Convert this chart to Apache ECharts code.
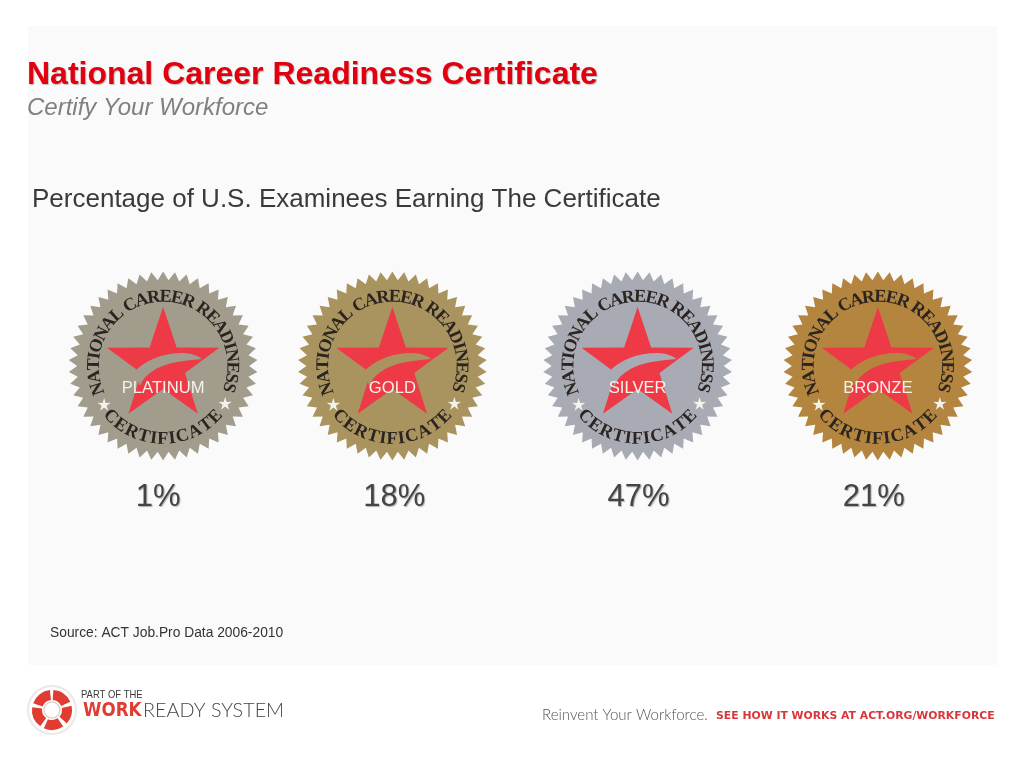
<!DOCTYPE html>
<html>
<head>
<meta charset="utf-8">
<title>National Career Readiness Certificate</title>
<script src="https://cdn.jsdelivr.net/npm/echarts@6/dist/echarts.min.js"></script>
<style>
html, body { margin: 0; padding: 0; background: #fff; }
#chart { width: 1024px; height: 768px; }
</style>
</head>
<body>
<div id="chart"></div>
<script>
// chart values
const levels = ['PLATINUM', 'GOLD', 'SILVER', 'BRONZE'];
const earningPercent = [1, 18, 47, 21];

// badge looks, one per level
const badgeColors = ['#a19c8b', '#a9945f', '#a9abb4', '#b3853f'];
const badgeNudge = [0, -9, -2, 0];
const labelNudge = [-5, -7, -1, -4];

const sans = '"Liberation Sans", Arial, sans-serif';
const measure = document.createElement('canvas').getContext('2d');

// one rotated text per letter, spread between two clockwise angles from the top
function arcText(text, font, radius, fromDeg, toDeg, inward) {
    measure.font = font;
    let widths = text.split('').map(c => measure.measureText(c).width);
    let total = widths.reduce((a, b) => a + b, 0) - widths[0] / 2 - widths[widths.length - 1] / 2;
    let used = -widths[0] / 2;
    return text.split('').map((c, i) => {
        used += widths[i] / 2;
        let deg = fromDeg + (toDeg - fromDeg) * used / total;
        used += widths[i] / 2;
        let a = deg * Math.PI / 180;
        return {
            type: 'text',
            x: radius * Math.sin(a),
            y: -radius * Math.cos(a),
            rotation: inward ? Math.PI - a : -a,
            style: { text: c, font: font, fill: '#2b2420', align: 'center', verticalAlign: 'middle' }
        };
    });
}

function seal(color) {
    let points = [];
    let teeth = 50;
    for (let i = 0; i < teeth * 2; i++) {
        let a = Math.PI * i / teeth;
        let r = i % 2 ? 86 : 94.5;
        points.push([r * Math.sin(a), -r * Math.cos(a)]);
    }
    return { type: 'polygon', shape: { points: points }, style: { fill: color } };
}

function star(cx, cy, outer, inner, color) {
    let points = [];
    for (let i = 0; i < 10; i++) {
        let a = Math.PI * i / 5;
        let r = i % 2 ? inner : outer;
        points.push([cx + r * Math.sin(a), cy - r * Math.cos(a)]);
    }
    return { type: 'polygon', shape: { points: points }, style: { fill: color } };
}

function renderBadge(params, api) {
    let i = api.value(0);
    let color = badgeColors[i];
    let x = api.coord([i, 0])[0];
    return {
        type: 'group',
        children: [
            {
                type: 'group',
                x: x + badgeNudge[i],
                y: 366,
                children: [
                    seal(color),
                    star(0, 0, 59, 23, '#ee3a47'),
                    {
                        type: 'path',
                        shape: { pathData: 'M-29 6 C-18 -6 0 -13 20 -13 C28 -13 35 -10 39 -7 C25 -6 8 -4 -3 1 C-12 5 -20 11 -23 20 Z' },
                        style: { fill: color }
                    }
                ].concat(
                    arcText('NATIONAL CAREER READINESS', 'bold 18px "Liberation Serif", serif', 69, -109, 108, false),
                    arcText('CERTIFICATE', 'bold 18px "Liberation Serif", serif', 73, 226, 134, true),
                    [
                        star(-59, 39, 7, 2.6, '#f4f2ec'),
                        star(62, 38, 7, 2.6, '#f4f2ec'),
                        {
                            type: 'text',
                            x: 0,
                            y: 22,
                            style: {
                                text: levels[i],
                                font: '16.6px ' + sans,
                                fill: '#f6f1ea',
                                align: 'center',
                                verticalAlign: 'middle'
                            }
                        }
                    ]
                )
            },
            {
                type: 'text',
                x: x + labelNudge[i],
                y: 497,
                style: {
                    text: api.value(1) + '%',
                    font: '31px ' + sans,
                    fill: '#444444',
                    align: 'center',
                    verticalAlign: 'middle',
                    textShadowColor: 'rgba(0,0,0,0.3)',
                    textShadowBlur: 1,
                    textShadowOffsetX: 1,
                    textShadowOffsetY: 1
                }
            }
        ]
    };
}

function logoSegment(start, end) {
    return {
        type: 'sector',
        z: 1,
        shape: { cx: 52, cy: 710, r: 20, r0: 10, startAngle: start * Math.PI / 180, endAngle: end * Math.PI / 180 },
        style: { fill: '#e03c31' }
    };
}

function footerText(text, x, y, font, fill, stretch) {
    return {
        type: 'text',
        z: 1,
        x: x,
        y: y,
        scaleX: stretch || 1,
        style: { text: text, font: font, fill: fill, verticalAlign: 'middle' }
    };
}

let chart = echarts.init(document.getElementById('chart'), null, { renderer: 'canvas' });

let option = {
    animation: false,
    backgroundColor: '#ffffff',
    title: [
        {
            text: 'National Career Readiness Certificate',
            left: 27,
            top: 59,
            padding: 0,
            textStyle: {
                color: '#e2000f', fontFamily: sans, fontWeight: 'bold', fontSize: 32,
                textShadowColor: 'rgba(0,0,0,0.25)', textShadowBlur: 1, textShadowOffsetX: 1, textShadowOffsetY: 1
            }
        },
        {
            text: 'Certify Your Workforce',
            left: 27,
            top: 96,
            padding: 0,
            textStyle: { color: '#808080', fontFamily: sans, fontStyle: 'italic', fontWeight: 'normal', fontSize: 24 }
        },
        {
            text: 'Percentage of U.S. Examinees Earning The Certificate',
            left: 32,
            top: 187,
            padding: 0,
            textStyle: { color: '#3a3a3a', fontFamily: sans, fontWeight: 'normal', fontSize: 26 }
        },
        {
            text: 'Source: ACT Job.Pro Data 2006-2010',
            left: 50,
            top: 626,
            padding: 0,
            textStyle: { color: '#333333', fontFamily: sans, fontWeight: 'normal', fontSize: 13.8 }
        }
    ],
    grid: { left: 44, width: 953, top: 260, height: 260 },
    xAxis: { type: 'category', data: levels, show: false },
    yAxis: { type: 'value', min: 0, max: 100, show: false },
    graphic: [
        { type: 'rect', z: 0, shape: { x: 28, y: 26, width: 969, height: 639 }, style: { fill: '#fafafa' } },
        { type: 'circle', z: 1, shape: { cx: 52, cy: 710, r: 24 }, style: { fill: '#ffffff', stroke: '#ece8e6', lineWidth: 2 } },
        logoSegment(-160, -96),
        logoSegment(-86, -24),
        logoSegment(-12, 42),
        logoSegment(56, 114),
        logoSegment(126, 188),
        { type: 'circle', z: 1, shape: { cx: 52, cy: 710, r: 8 }, style: { fill: '#ffffff', stroke: '#d9d6d2', lineWidth: 1.5 } },
        footerText('PART OF THE', 81, 695, '11px ' + sans, '#3a3a3a', 0.86),
        footerText('WORK', 83, 711, 'bold 19px "DejaVu Sans", sans-serif', '#e03c31', 0.88),
        footerText('READY SYSTEM', 143, 711, '300 19px Lato, sans-serif', '#444444', 1.04),
        footerText('Reinvent Your Workforce.', 542, 715, '300 16px Lato, sans-serif', '#555555', 0.94),
        footerText('SEE HOW IT WORKS AT ACT.ORG/WORKFORCE', 716, 716, 'bold 11px "DejaVu Sans", sans-serif', '#d8373a', 0.985)
    ],
    series: [
        {
            type: 'custom',
            clip: false,
            z: 3,
            silent: true,
            renderItem: renderBadge,
            data: levels.map((name, i) => [i, earningPercent[i]])
        }
    ]
};

option && chart.setOption(option);
</script>
</body>
</html>
